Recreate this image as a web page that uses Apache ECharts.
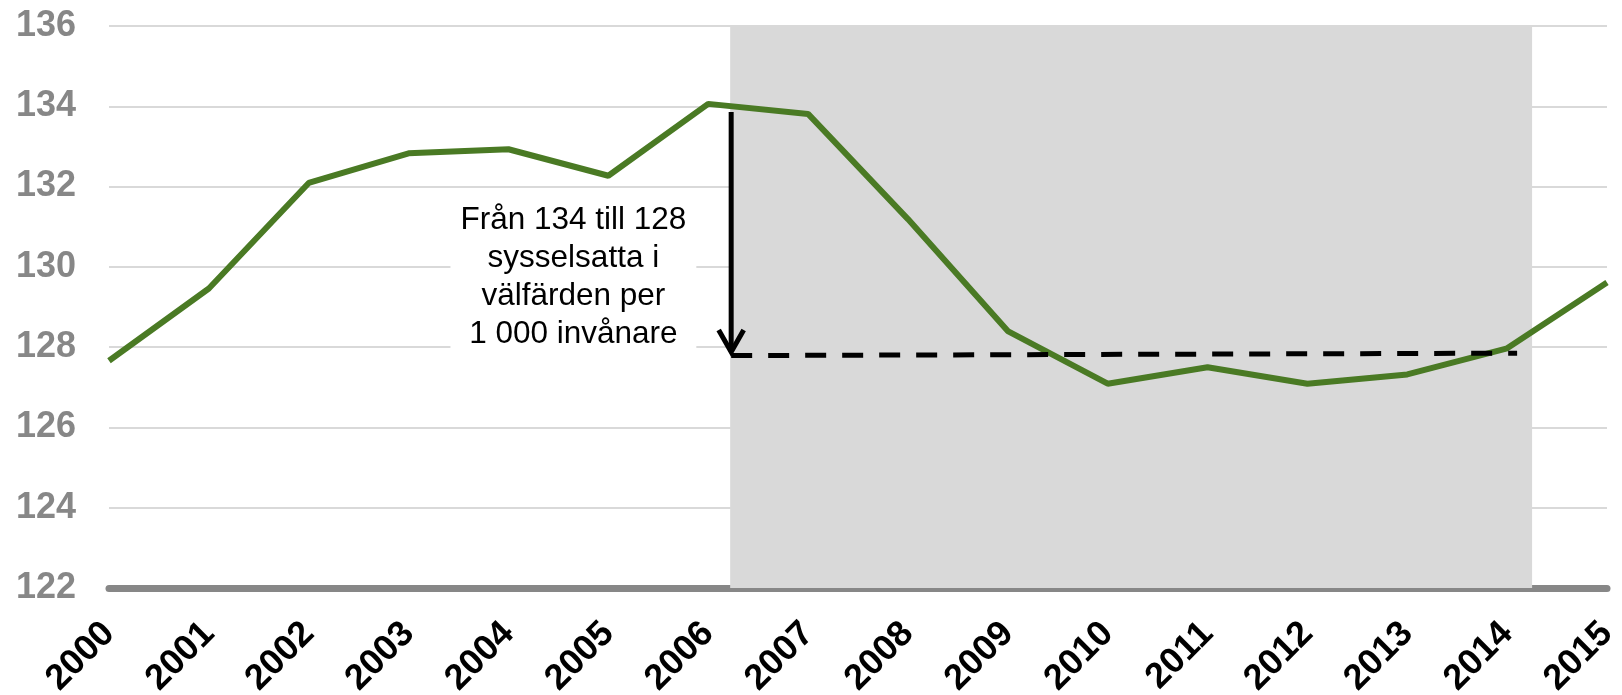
<!DOCTYPE html>
<html>
<head>
<meta charset="utf-8">
<script src="https://cdn.jsdelivr.net/npm/echarts@6/dist/echarts.min.js"></script>
<style>
html, body { margin: 0; padding: 0; background: #fff; }
#chart { width: 1622px; height: 695px; }
</style>
</head>
<body>
<div id="chart"></div>
<script>
var years = [2000, 2001, 2002, 2003, 2004, 2005, 2006, 2007, 2008, 2009, 2010, 2011, 2012, 2013, 2014, 2015];
var employed = [127.66, 129.46, 132.09, 132.83, 132.93, 132.27, 134.06, 133.81, 131.19, 128.40, 127.09, 127.50, 127.09, 127.32, 127.97, 129.61];
var yMin = 122, yMax = 136, yStep = 2;

// shaded period + annotation anchors (data coords)
var shadeFrom = 2006.22, shadeTo = 2014.25, shadeTop = 136.07;
var arrowX = 2006.23, arrowTop = 133.86, arrowTip = 127.88;
var dashY1 = 127.79, dashY2 = 127.85, dashEnd = 2014.1;
var noteX = 2004.65, noteY = 129.75;
var noteText = 'Från 134 till 128\nsysselsatta i\nvälfärden per\n1 000 invånare';

var font = '"Liberation Sans", Arial, sans-serif';
var chart = echarts.init(document.getElementById('chart'));

var option = {
  animation: false,
  grid: { left: 109, right: 15, top: 26, bottom: 107, containLabel: false, outerBoundsMode: 'none' },
  xAxis: {
    type: 'value',
    min: years[0],
    max: years[years.length - 1],
    interval: 1,
    axisLine: { show: true, onZero: false, lineStyle: { color: '#878787', width: 7 } },
    axisTick: { show: false },
    splitLine: { show: false },
    axisLabel: {
      rotate: 45,
      margin: 40,
      color: '#000',
      fontSize: 36,
      fontWeight: 'bold',
      fontFamily: font,
      formatter: function (v) { return String(v); }
    }
  },
  yAxis: {
    type: 'value',
    min: yMin,
    max: yMax,
    interval: yStep,
    axisLine: { show: false },
    axisTick: { show: false },
    splitLine: { lineStyle: { color: '#d9d9d9', width: 2 } },
    axisLabel: {
      margin: 33,
      color: '#878787',
      fontSize: 36,
      fontWeight: 'bold',
      fontFamily: font
    }
  },
  series: [
    {
      type: 'line',
      clip: false,
      symbol: 'none',
      z: 3,
      lineStyle: { color: '#4a7a24', width: 6 },
      data: years.map(function (y, i) { return [y, employed[i]]; }),
      markArea: {
        silent: true,
        itemStyle: { color: '#d9d9d9' },
        data: [[{ xAxis: shadeFrom, yAxis: yMin }, { xAxis: shadeTo, yAxis: shadeTop }]]
      }
    }
  ]
};
chart.setOption(option);

function px(x, y) { return chart.convertToPixel({ gridIndex: 0 }, [x, y]); }
var shaftTop = px(arrowX, arrowTop), tip = px(arrowX, arrowTip);
var d1 = px(arrowX, dashY1), d2 = px(dashEnd, dashY2);
var noteAt = px(noteX, noteY);

chart.setOption({
  graphic: [
    {
      type: 'text', z: 20,
      x: noteAt[0], y: noteAt[1],
      style: {
        text: noteText,
        font: '31.5px ' + font,
        fill: '#000',
        align: 'center',
        verticalAlign: 'middle',
        lineHeight: 38,
        backgroundColor: '#fff',
        padding: [4, 10, 4, 10]
      }
    },
    {
      type: 'line', z: 20,
      shape: { x1: shaftTop[0], y1: shaftTop[1], x2: tip[0], y2: tip[1] },
      style: { stroke: '#000', lineWidth: 5 }
    },
    {
      type: 'polyline', z: 20,
      shape: { points: [[tip[0] - 12.5, tip[1] - 22], [tip[0], tip[1]], [tip[0] + 12.5, tip[1] - 22]] },
      style: { stroke: '#000', lineWidth: 5, fill: null }
    },
    {
      type: 'line', z: 20,
      shape: { x1: d1[0], y1: d1[1], x2: d2[0], y2: d2[1] },
      style: { stroke: '#000', lineWidth: 5, lineDash: [21, 16] }
    }
  ]
});
</script>
</body>
</html>
